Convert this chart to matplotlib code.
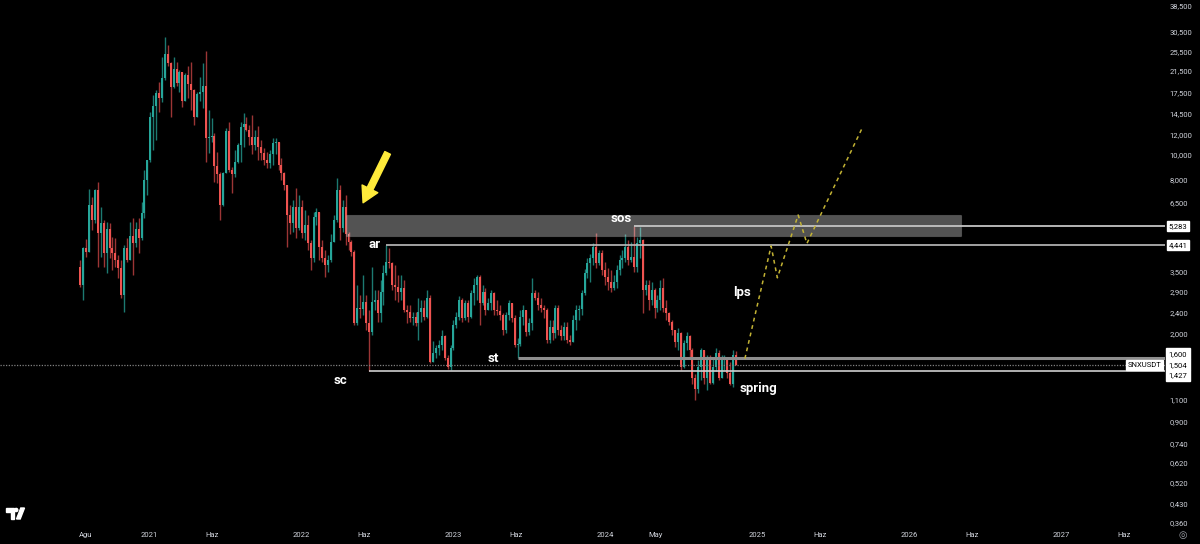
import numpy as np
import pandas as pd
import matplotlib
matplotlib.use('Agg')
import matplotlib.pyplot as plt
import matplotlib.dates as mdates
from matplotlib.patches import Polygon, Circle, Rectangle
from matplotlib.ticker import NullLocator
import matplotlib.transforms as mtrans

# ---- weekly SNXUSDT candles (open = previous close) ----
first_open = 3.64
close = [
    3.10, 4.33, 4.17, 6.38, 5.57, 7.30, 4.95, 5.42, 4.13, 5.14,
    4.33, 4.13, 3.88, 3.61, 2.83, 4.33, 3.88, 4.82, 4.53, 5.14,
    4.74, 5.94, 8.00, 9.57, 14.1, 15.6, 17.5, 16.8, 20.1, 24.9,
    23.0, 18.5, 21.8, 19.2, 21.2, 16.3, 20.7, 19.0, 18.0, 14.1,
    17.4, 17.7, 18.7, 11.7, 11.8, 11.9, 9.05, 8.44, 6.38, 8.52,
    12.4, 8.75, 8.40, 9.40, 11.0, 12.9, 13.3,
    12.6, 11.8, 11.0, 11.8, 10.8, 10.2, 9.57, 9.31, 10.1, 11.2,
    11.3, 9.15, 8.52, 7.65, 5.83, 5.42, 6.27, 5.19, 6.27, 4.95,
    5.33, 4.53, 3.95, 5.72, 5.99, 4.37, 3.95, 3.70, 3.88, 4.57,
    5.57, 7.30, 5.19, 6.27, 4.91, 4.57, 4.17, 2.19, 2.52, 2.50,
    2.65, 2.19, 2.02, 2.65, 2.70, 2.40, 2.91, 3.44, 3.81, 3.78,
    3.10, 3.04, 2.91, 3.02, 2.47, 2.43,
    2.29, 2.31, 2.19, 2.43, 2.52, 2.31, 2.75, 1.54, 1.67, 1.75,
    1.80, 1.95, 1.60, 1.47, 1.75, 2.15, 2.31, 2.70, 2.29, 2.63,
    2.31, 2.88, 3.10, 3.33, 2.63, 2.91, 2.47, 2.63, 2.88, 2.47,
    2.45, 2.36, 2.06, 2.36, 2.63, 2.29, 1.80, 1.82, 2.31, 2.47,
    2.02, 2.19, 2.88, 2.75, 2.58, 2.52, 2.47, 1.88, 2.12, 2.00,
    2.52, 2.06, 1.95, 2.12, 1.88, 1.85,
    2.25, 2.47, 2.50, 2.88, 3.44, 3.78, 3.95, 4.37, 3.78, 4.13,
    3.54, 3.33, 3.18, 3.02, 3.18, 3.54, 3.88, 3.95, 4.37, 3.88,
    3.99, 3.64, 4.53, 4.65, 2.96, 3.10, 2.70, 2.96, 2.52, 2.70,
    3.02, 2.52, 2.40, 2.21, 2.06, 1.85, 2.00, 1.48, 1.83, 1.95,
    1.72, 1.34, 1.21, 1.48, 1.72, 1.34, 1.57, 1.28, 1.48, 1.67,
    1.34, 1.57, 1.62, 1.40, 1.26, 1.65, 1.504,
]
high = [
    3.88, 4.37, 4.69, 7.37, 6.86, 7.37, 7.86, 6.27, 5.57, 5.47,
    5.42, 4.78, 4.74, 4.06, 3.88, 4.45, 4.74, 5.47, 5.67, 5.47,
    5.67, 6.55, 8.75, 9.57, 14.7, 17.2, 18.0, 19.4, 24.3, 29.1,
    27.1, 23.2, 24.3, 23.2, 21.6, 20.1, 21.0, 22.4, 23.2, 18.2,
    17.7, 20.2, 23.0, 25.6, 15.0, 14.0, 12.2, 10.3, 8.60, 8.60,
    12.8, 13.5, 8.99, 10.5, 11.2, 13.5, 14.6,
    14.1, 13.1, 14.4, 12.6, 13.0, 11.5, 10.7, 10.3, 10.5, 11.7,
    11.7, 11.0, 9.75, 8.60, 7.65, 6.38, 6.67, 7.43, 6.99, 6.67,
    6.10, 5.83, 4.65, 5.99, 6.21, 5.99, 4.65, 4.25, 4.06, 4.91,
    5.83, 8.15, 7.65, 6.67, 6.99, 5.00, 4.65, 4.25, 3.10, 2.83,
    3.38, 2.83, 2.47, 3.64, 2.96, 2.96, 3.24, 3.70, 4.441, 4.33,
    3.81, 3.70, 3.38, 3.38, 3.24, 2.58,
    2.58, 2.43, 2.43, 2.75, 2.70, 2.70, 2.96, 2.83, 1.86, 1.80,
    1.88, 2.06, 1.97, 1.65, 1.80, 2.25, 2.43, 2.80, 2.75, 2.70,
    2.70, 2.96, 3.30, 3.38, 3.38, 3.10, 3.02, 2.75, 2.96, 2.91,
    2.70, 2.58, 2.40, 2.43, 2.70, 2.63, 2.36, 1.92, 2.47, 2.58,
    2.43, 2.29, 3.30, 2.96, 2.91, 2.75, 2.58, 2.52, 2.25, 2.25,
    2.58, 2.58, 2.15, 2.21, 2.21, 1.97,
    2.36, 2.58, 2.58, 2.96, 3.57, 3.95, 4.10, 4.53, 4.95, 4.25,
    4.25, 3.81, 3.61, 3.54, 3.38, 3.70, 4.06, 4.25, 4.91, 4.65,
    4.57, 5.283, 4.78, 5.24, 4.70, 3.24, 3.24, 3.18, 3.02, 2.83,
    3.24, 3.30, 2.70, 2.43, 2.25, 2.06, 2.09, 2.02, 1.88, 2.02,
    1.97, 1.75, 1.38, 1.57, 1.75, 1.62, 1.65, 1.65, 1.62, 1.75,
    1.72, 1.65, 1.65, 1.62, 1.54, 1.72, 1.70,
]
low = [
    3.04, 2.70, 3.99, 4.17, 5.09, 5.42, 3.64, 3.99, 3.64, 3.44,
    3.95, 3.54, 3.64, 3.30, 2.75, 2.43, 3.81, 3.88, 3.38, 4.37,
    4.13, 4.65, 5.67, 6.99, 9.40, 10.5, 11.5, 14.7, 16.1, 19.7,
    22.4, 14.1, 18.3, 18.7, 17.7, 15.5, 16.3, 16.8, 15.0, 13.1,
    14.1, 16.3, 15.3, 9.40, 10.2, 11.3, 7.86, 7.79, 5.57, 6.33,
    8.52, 8.60, 7.10, 8.22, 9.31, 9.40, 10.8,
    12.4, 11.0, 10.1, 10.5, 9.57, 9.57, 9.15, 8.91, 8.91, 9.15,
    10.1, 8.75, 8.00, 7.30, 4.37, 4.91, 5.00, 4.74, 5.09, 4.74,
    4.65, 4.25, 3.54, 3.81, 5.33, 3.88, 3.81, 3.33, 3.47, 3.81,
    4.65, 5.47, 4.65, 5.00, 4.45, 4.25, 4.02, 2.15, 2.15, 2.29,
    2.36, 2.06, 1.427, 1.97, 2.47, 2.21, 2.21, 2.58, 3.38, 3.61,
    2.96, 2.70, 2.65, 2.70, 2.43, 2.19,
    2.21, 2.15, 2.13, 1.88, 2.21, 2.25, 2.29, 1.53, 1.54, 1.60,
    1.65, 1.72, 1.57, 1.45, 1.43, 1.72, 2.09, 2.25, 2.21, 2.25,
    2.21, 2.29, 2.58, 2.70, 2.15, 2.58, 2.36, 2.47, 2.47, 2.36,
    2.36, 2.25, 1.97, 2.00, 2.25, 2.21, 1.76, 1.60, 1.78, 2.15,
    1.95, 1.97, 2.06, 2.70, 2.47, 2.43, 2.29, 1.83, 1.83, 1.88,
    1.92, 1.97, 1.88, 1.88, 1.83, 1.80,
    1.97, 2.06, 2.25, 2.36, 2.83, 3.30, 3.18, 3.70, 3.61, 3.70,
    3.38, 3.10, 2.96, 2.91, 2.96, 3.02, 3.38, 3.61, 3.81, 3.70,
    3.81, 3.47, 3.47, 3.95, 2.40, 2.83, 2.47, 2.58, 2.29, 2.43,
    2.47, 2.43, 2.25, 2.15, 1.97, 1.76, 1.72, 1.44, 1.46, 1.72,
    1.62, 1.26, 1.09, 1.17, 1.31, 1.26, 1.20, 1.26, 1.26, 1.42,
    1.31, 1.34, 1.44, 1.34, 1.25, 1.23, 1.50,
]
start_week = '2020-07-20'

# ---- drawn levels: (price, index of the candle where the line starts) ----
sc_level, sc_idx = 1.427, 99
ar_level, ar_idx = 4.441, 105
st_level, st_idx = 1.600, 150
sos_level, sos_idx = 5.283, 190
last_price = 1.504

zone_start, zone_end = '2022-04-18', '2026-05-04'
zone_low, zone_high = 4.82, 5.82

proj_dates = ['2024-12-02', '2025-02-03', '2025-02-18', '2025-04-09', '2025-04-30', '2025-09-10']
proj_prices = [1.59, 4.40, 3.30, 5.82, 4.50, 12.8]

arrow_tail = ('2022-07-28', 10.2)
arrow_tip = ('2022-05-30', 6.5)

notes = [('sos', '2024-02-10', 5.62), ('ar', '2022-06-27', 4.45), ('st', '2023-04-07', 1.59),
         ('sc', '2022-04-05', 1.31), ('lps', '2024-11-25', 2.89), ('spring', '2025-01-03', 1.21)]

price_ticks = [38.5, 30.5, 25.5, 21.5, 17.5, 14.5, 12.0, 10.0, 8.0, 6.5, 3.5, 2.9, 2.4, 2.0,
               1.1, 0.9, 0.74, 0.62, 0.52, 0.43, 0.36]
time_ticks = ['2020-08-01', '2021-01-01', '2021-06-01', '2022-01-01', '2022-06-01', '2023-01-01',
              '2023-06-01', '2024-01-01', '2024-05-01', '2025-01-01', '2025-06-01', '2026-01-01',
              '2026-06-01', '2027-01-01', '2027-06-01']
time_labels = ['Ağu', '2021', 'Haz', '2022', 'Haz', '2023', 'Haz', '2024', 'May', '2025', 'Haz',
               '2026', 'Haz', '2027', 'Haz']


def dn(s):
    return mdates.date2num(pd.Timestamp(s))


c = np.array(close)
h = np.array(high)
l = np.array(low)
o = np.r_[first_open, c[:-1]]
h = np.maximum(h, np.maximum(o, c))
l = np.minimum(l, np.minimum(o, c))
d = mdates.date2num(pd.date_range(start_week, periods=len(c), freq='7D'))
up = c >= o

UP, DOWN = '#26a69a', '#ef5350'
UPW, DOWNW = '#1c7a71', '#9c3535'
TXT = '#d1d4dc'

fig = plt.figure(figsize=(12, 5.44), dpi=100, facecolor='black')
ax = fig.add_axes([0, 18 / 544, 1165 / 1200, 526 / 544], facecolor='black')

ax.vlines(d[up], l[up], h[up], color=UPW, lw=1, zorder=2)
ax.vlines(d[~up], l[~up], h[~up], color=DOWNW, lw=1, zorder=2)
ax.bar(d[up], (c - o)[up], bottom=o[up], width=4.8, color=UP, lw=0, zorder=2.5)
ax.bar(d[~up], (o - c)[~up], bottom=c[~up], width=4.8, color=DOWN, lw=0, zorder=2.5)

ax.set_yscale('log')
ax.set_ylim(0.3506, 40.6)
xmin, xmax = dn('2020-01-09'), dn('2027-09-07')
ax.set_xlim(xmin, xmax)

# resistance zone
ax.add_patch(Rectangle((dn(zone_start), zone_low), dn(zone_end) - dn(zone_start), zone_high - zone_low,
                       facecolor='white', alpha=0.33, edgecolor='#9a9a9a', lw=0.8, zorder=3))

# horizontal levels
ax.hlines(sos_level, d[sos_idx], xmax, color='#c4c4c4', lw=1.3, zorder=4)
ax.hlines(ar_level, d[ar_idx], xmax, color='#bdbdbd', lw=1.2, zorder=4)
ax.hlines(st_level, d[st_idx], xmax, color='#8e8e8e', lw=2.2, zorder=4)
ax.hlines(sc_level, d[sc_idx], xmax, color='#cfcfcf', lw=1.2, zorder=4)
ax.axhline(last_price, color='#808080', lw=0.9, ls=(0, (1, 1.2)), zorder=4)

# projected path
ax.plot([dn(s) for s in proj_dates], proj_prices, color='#c2b234', lw=1.1, ls=(0, (2.5, 2.5)), zorder=4)

# arrow
ax.annotate('', xy=(dn(arrow_tip[0]), arrow_tip[1]), xytext=(dn(arrow_tail[0]), arrow_tail[1]),
            arrowprops=dict(arrowstyle='simple,head_length=0.8,head_width=0.9,tail_width=0.32',
                            color='#ffeb3b', mutation_scale=14, shrinkA=0, shrinkB=0), zorder=6)

for t, ds, p in notes:
    ax.text(dn(ds), p, t, color='white', fontsize=9.5, fontweight='bold', family='Roboto',
            ha='center', va='center', zorder=6)

# price axis
ax.set_yticks(price_ticks)
ax.set_yticklabels([f'{v:.3f}'.replace('.', ',') for v in price_ticks])
ax.yaxis.set_minor_locator(NullLocator())
ax.tick_params(axis='y', left=False, labelleft=False, right=False, labelright=True,
               length=0, pad=3, labelsize=5.5, labelcolor=TXT)
ax.set_xticks([dn(s) for s in time_ticks])
ax.set_xticklabels(time_labels)
ax.xaxis.set_minor_locator(NullLocator())
ax.tick_params(axis='x', length=0, pad=4, labelsize=5.5, labelcolor=TXT)
for lab in ax.get_xticklabels() + ax.get_yticklabels():
    lab.set_family('Roboto')
for s in ax.spines.values():
    s.set_visible(False)

ytr = ax.get_yaxis_transform()
box = dict(boxstyle='square,pad=0.25', facecolor='white', edgecolor='white')
for p in (sos_level, ar_level):
    ax.text(1.003, p, f'{p:.3f}'.replace('.', ','), transform=ytr, fontsize=5.5, family='Roboto',
            color='black', ha='left', va='center', bbox=box, clip_on=False, zorder=7)
for p, dy in ((st_level, 3.0), (last_price, 0), (sc_level, -3.6)):
    ax.annotate(f'{p:.3f}'.replace('.', ','), xy=(1.0, p), xycoords=ytr, xytext=(2.5, dy),
                textcoords='offset points', fontsize=5.5, family='Roboto', color='black',
                ha='left', va='center', bbox=dict(boxstyle='square,pad=0.35', facecolor='white',
                                                  edgecolor='white'), annotation_clip=False, zorder=7)
ax.text(0.997, last_price, 'SNXUSDT', transform=ytr, fontsize=5.5, family='Roboto', color='black',
        ha='right', va='center', bbox=box, zorder=7)

# TradingView logo and settings glyph
idt = mtrans.IdentityTransform()
H = 544
fig.patches.append(Polygon([(6, H - 508), (14, H - 508), (14, H - 519), (10.5, H - 519),
                            (10.5, H - 511.5), (6, H - 511.5)], closed=True, color='white', transform=idt))
fig.patches.append(Circle((16.2, H - 510), 1.6, color='white', transform=idt))
fig.patches.append(Polygon([(16.5, H - 519), (20.2, H - 519), (24.5, H - 508), (20.8, H - 508)],
                           closed=True, color='white', transform=idt))
fig.text(1183 / 1200, 1 - 535 / 544, '◎', color='#a0a3ab', fontsize=7, family='DejaVu Sans',
         ha='center', va='center')

fig.savefig('out.png', dpi=100, facecolor='black')
